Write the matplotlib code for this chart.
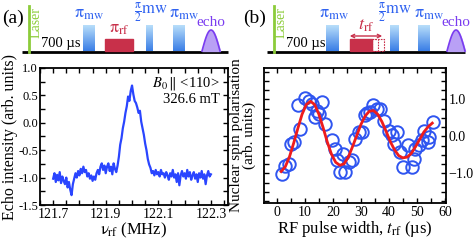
import numpy as np
import matplotlib
matplotlib.use("Agg")
import matplotlib.pyplot as plt
from matplotlib.ticker import MultipleLocator, FixedLocator, FuncFormatter
from matplotlib.patches import Rectangle, FancyArrowPatch
from matplotlib.colors import LinearSegmentedColormap

plt.rcParams['font.family'] = ['Liberation Serif', 'DejaVu Serif']
plt.rcParams['mathtext.fontset'] = 'stix'

# ---- (a) echo intensity vs rf frequency (121.700 .. 122.300 MHz, 5 kHz steps)
echo = [-1.02, -0.92, -1.08, -0.95, -1.05, -0.90, -1.10, -0.98, -1.06, -1.12,
        -1.00, -1.18, -1.08, -1.22, -1.32, -1.12, -1.02, -0.92, -1.00, -0.88,
        -0.96, -0.84, -0.92, -0.80, -0.90, -0.86, -0.98, -0.92, -1.02, -0.96,
        -1.06, -0.98, -1.04, -0.92, -0.86, -0.94, -0.80, -0.74, -0.86, -0.78,
        -0.92, -0.80, -0.74, -0.88, -0.80, -0.94, -0.74, -0.84, -0.90, -0.78,
        -0.62, -0.40, -0.28, -0.10, 0.02, 0.18, 0.30, 0.48, 0.40, 0.58,
        0.68, 0.52, 0.40, 0.36, 0.28, 0.18, 0.22, 0.02, -0.10, -0.22,
        -0.38, -0.50, -0.66, -0.76, -0.82, -0.92, -0.88, -0.96, -0.86, -0.94,
        -0.90, -0.98, -0.86, -0.94, -0.92, -1.00, -0.90, -0.96, -1.04, -0.92,
        -0.98, -0.86, -1.00, -0.94, -1.08, -0.92, -1.14, -0.96, -0.88, -0.98,
        -0.92, -1.02, -0.86, -0.98, -0.90, -1.04, -0.96, -0.90, -1.02, -0.94,
        -1.08, -0.92, -1.00, -0.88, -1.02, -0.94, -1.12, -0.96, -0.88, -0.98,
        -0.94]
freq = np.linspace(121.7, 122.3, len(echo))
freq_ticks = [121.7, 121.9, 122.1, 122.3]

# ---- (b) Rabi oscillation of nuclear spin
t_meas = [1.8, 3.0, 4.2, 5.0, 6.1, 8.3, 7.7, 10.1, 11.3, 12.5, 16.1, 13.7, 14.3,
          14.9, 17.3, 19.6, 20.8, 21.4, 22.6, 23.6, 24.4, 25.6, 26.8, 28.0, 29.2,
          30.4, 31.5, 32.1, 33.3, 34.5, 35.7, 36.9, 38.1, 39.9, 41.1, 41.7, 42.9,
          44.0, 45.2, 47.0, 48.2, 48.8, 49.4, 50.6, 51.8, 52.4, 53.8, 54.4, 55.6]
p_meas = [-1.01, -0.80, -0.75, -0.20, -0.15, 0.21, 0.86, 1.05, 0.97, 0.88, 0.93,
          0.52, 0.70, 0.61, 0.34, -0.11, -0.33, -0.65, -0.96, -0.47, -0.96, -0.69,
          -0.65, -0.06, 0.12, 0.12, 0.57, 0.62, 0.66, 0.84, 0.75, 0.75, 0.43, 0.16,
          0.03, -0.20, 0.12, -0.42, -0.83, -0.24, -0.83, -0.60, -0.33, -0.24, -0.11,
          0.16, -0.15, -0.02, 0.39]
t_fit = [1.5, 3.0, 4.5, 6.0, 7.5, 9.0, 10.5, 12.0, 13.5, 15.0, 16.5, 18.0, 19.5,
         21.0, 22.5, 24.0, 25.5, 27.0, 28.5, 30.0, 31.5, 33.0, 34.5, 36.0, 37.5,
         39.0, 40.5, 42.0, 43.5, 45.0, 46.5, 48.0, 49.5, 51.0, 52.5, 54.0, 55.5]
p_fit = [-0.95, -0.82, -0.55, -0.18, 0.22, 0.60, 0.86, 0.95, 0.86, 0.60, 0.24,
         -0.15, -0.48, -0.70, -0.78, -0.74, -0.56, -0.28, 0.02, 0.32, 0.55, 0.68,
         0.70, 0.60, 0.40, 0.14, -0.14, -0.36, -0.52, -0.58, -0.56, -0.46, -0.28,
         -0.08, 0.12, 0.26, 0.36]

# ---- pulse sequence schematics (figure pixel units)
seq_a = dict(x0=22, x1=228, laser=29, mw=[(83, 95), (146, 153), (173, 185)],
             mwlab=[89, 151, 184], rf=(105, 133), echo=(202, 220))
seq_b = dict(x0=267, x1=465, laser=274, mw=[(326, 339), (390, 399), (418, 430)],
             mwlab=[334, 395, 429], rf=(350, 372), echo=(447, 465))

W, H = 474, 243
fig = plt.figure(figsize=(W / 100, H / 100), dpi=100)

blue = '#2a45ff'
mwblue = '#2f62f0'
red = '#c8304a'
purple = '#7a3cf0'
green = '#8ccc3a'

def tickstyle(ax):
    ax.tick_params(which='both', direction='in', top=True, right=True,
                   width=1.0, labelsize=10, pad=2, length=3.5)
    for s in ax.spines.values():
        s.set_linewidth(1.3)

# (a)
ax1 = fig.add_axes([40 / W, 1 - 205 / H, 188 / W, 137 / H])
ax1.plot(freq, echo, color=blue, lw=1.6)
ax1.set_xlim(121.65, 122.365)
ax1.set_ylim(-1.5, 1.0)
ax1.xaxis.set_major_locator(FixedLocator(freq_ticks))
ax1.xaxis.set_minor_locator(MultipleLocator(0.05))
ax1.yaxis.set_major_locator(MultipleLocator(0.5))
ax1.yaxis.set_minor_locator(MultipleLocator(0.25))
ax1.xaxis.set_major_formatter(FuncFormatter(lambda v, p: f"{v:.1f}"))
ax1.yaxis.set_major_formatter(FuncFormatter(lambda v, p: f"{v:.1f}"))
tickstyle(ax1)
ax1.tick_params(axis='y', labelsize=9, pad=1.5)
ax1.set_xlabel(r"$\mathrm{\nu}_{\rm rf}$ (MHz)", fontsize=12, labelpad=0)
ax1.set_ylabel("Echo intensity (arb. units)", fontsize=11.5)
ax1.yaxis.set_label_coords(-0.118, 0.5)
ax1.text(0.955, 0.95, r"$B_0\,\|$ <110>", transform=ax1.transAxes,
         ha='right', va='top', fontsize=10.5)
ax1.text(0.955, 0.82, "326.6 mT", transform=ax1.transAxes,
         ha='right', va='top', fontsize=10.5)

# (b)
ax2 = fig.add_axes([264 / W, 1 - 203 / H, 182 / W, 135 / H])
ax2.plot(t_meas, p_meas, 'o', mfc='none', mec='#2f55f0', ms=9, mew=1.4)
ax2.plot(t_fit, p_fit, color='#ee1c1c', lw=2.0)
ax2.set_xlim(-4.6, 60.4)
ax2.set_ylim(-1.8, 1.85)
ax2.xaxis.set_major_locator(MultipleLocator(10))
ax2.xaxis.set_minor_locator(MultipleLocator(5))
ax2.yaxis.set_major_locator(MultipleLocator(1.0))
ax2.yaxis.set_minor_locator(MultipleLocator(0.25))
ax2.yaxis.set_major_formatter(FuncFormatter(lambda v, p: f"{v:.1f}".replace('-', '\u2212')))
tickstyle(ax2)
ax2.tick_params(labelleft=False, labelright=True)
ax2.set_xlabel(r"RF pulse width, $t_{\rm rf}$ (µs)", fontsize=12, labelpad=0)
ax2.set_ylabel("Nuclear spin polarisation\n(arb. units)", fontsize=11, linespacing=0.9)
ax2.yaxis.set_label_coords(-0.045, 0.5)

# overlay for pulse sequences
ov = fig.add_axes([0, 0, 1, 1])
grad = LinearSegmentedColormap.from_list('g', ['#b8defa', '#3a7ee6'])
gimg = np.linspace(0, 1, 64).reshape(-1, 1)
base_y = 52

def draw_seq(s):
    ov.plot([s['x0'], s['x1']], [base_y, base_y], color='k', lw=2, solid_capstyle='butt')
    ov.plot([s['laser'], s['laser']], [6, base_y], color=green, lw=2)
    ov.text(s['laser'] + 7, 7, "Laser", rotation=90, color=green, fontsize=10,
            ha='center', va='top')
    ov.text(s['laser'] + 32, base_y - 2, "700 µs", fontsize=10.5,
            ha='center', va='bottom')
    for x0, x1 in s['mw']:
        ov.imshow(gimg, cmap=grad, aspect='auto', extent=(x0, x1, base_y - 1, 26),
                  zorder=2)
    x0, x1 = s['rf']
    ov.add_patch(Rectangle((x0, 39), x1 - x0, base_y - 1 - 39, color=red, zorder=2))
    e0, e1 = s['echo']
    xs = np.linspace(e0, e1, 30)
    ys = base_y - 1 - 21 * np.sin(np.pi * (xs - e0) / (e1 - e0))
    ov.fill_between(xs, ys, base_y - 1, color='#b9a0f5', zorder=2)
    ov.plot(xs, ys, color=purple, lw=1.2, zorder=3)
    ov.text((e0 + e1) / 2, 29, "echo", color=purple, fontsize=11, ha='center', va='bottom')
    lx = s['mwlab']
    ov.text(lx[0], 22, r"$\mathrm{\pi}_{\rm mw}$", color=mwblue, fontsize=13,
            ha='center', va='bottom')
    ov.text(lx[1], 25, r"$\frac{\mathrm{\pi}}{2}\mathrm{mw}$", color=mwblue,
            fontsize=12, ha='center', va='bottom')
    ov.text(lx[2], 22, r"$\mathrm{\pi}_{\rm mw}$", color=mwblue, fontsize=13,
            ha='center', va='bottom')

draw_seq(seq_a)
draw_seq(seq_b)
x0, x1 = seq_a['rf']
ov.text((x0 + x1) / 2, 37, r"$\mathrm{\pi}_{\rm rf}$", color=red, fontsize=13,
        ha='center', va='bottom')
x0, x1 = seq_b['rf']
for dx in (6, 12):
    ov.add_patch(Rectangle((x1, 39), dx, base_y - 1 - 39, fill=False, ec=red,
                           ls=(0, (1.5, 1)), lw=0.8, zorder=2))
ov.add_patch(FancyArrowPatch((x0 - 3, 36), (x1 + 13, 36), arrowstyle='<->',
                             mutation_scale=6, color=red, lw=1))
ov.text((x0 + x1) / 2 + 5, 34, r"$t_{\rm rf}$", color=red, fontsize=13, ha='center',
        va='bottom')
ov.set_xlim(0, W)
ov.set_ylim(H, 0)
ov.axis('off')

fig.text(2 / W, 1 - 18 / H, "(a)", fontsize=14, va='center')
fig.text(243 / W, 1 - 18 / H, "(b)", fontsize=14, va='center')

fig.savefig("out.png", dpi=100)
